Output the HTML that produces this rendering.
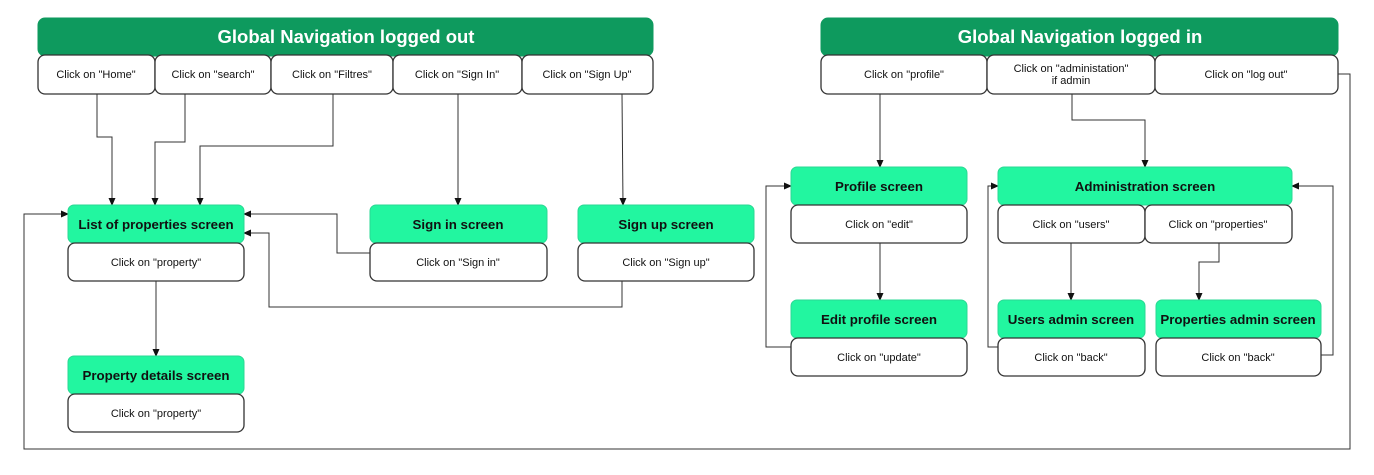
<!DOCTYPE html>
<html><head><meta charset="utf-8"><style>
body{margin:0;background:#fff}
text{font-family:"Liberation Sans",Arial,sans-serif}
.h{fill:#0e9a5e;stroke:#0e9a5e}
.g{fill:#22f6a0;stroke:#2bd894;stroke-width:1}
.w{fill:#fff;stroke:#333;stroke-width:1.3}
.ht{font-size:18.5px;font-weight:bold;fill:#fff}
.gt{font-size:13.3px;font-weight:bold;fill:#111}
.wt{font-size:11px;fill:#111}
.l{fill:none;stroke:#333;stroke-width:1}
</style></head><body>
<svg width="1374" height="470" xmlns="http://www.w3.org/2000/svg">
<defs><marker id="a" markerWidth="8" markerHeight="8" refX="7" refY="4" orient="auto" markerUnits="userSpaceOnUse"><path d="M0,0.5 L8,4 L0,7.5z" fill="#111"/></marker></defs>
<g class="l" marker-end="url(#a)">
<polyline points="97,94 97,137 112,137 112,205"/>
<polyline points="185,94 185,142 155,142 155,205"/>
<polyline points="333,94 333,146 200,146 200,205"/>
<polyline points="458,94 458,205"/>
<polyline points="622,94 623,205"/>
<polyline points="370,253 337,253 337,214 244,214"/>
<polyline points="622,281 622,307 269,307 269,233 244,233"/>
<polyline points="156,281 156,356"/>
<polyline points="1338,74 1350,74 1350,449 24,449 24,214 68,214"/>
<polyline points="880,94 880,122 880,167"/>
<polyline points="1072,94 1072,120 1145,120 1145,167"/>
<polyline points="880,243 880,300"/>
<polyline points="791,347 766,347 766,186 791,186"/>
<polyline points="1071,243 1071,300"/>
<polyline points="1219,243 1219,262 1199,262 1199,300"/>
<polyline points="998,347 988,347 988,186 998,186"/>
<polyline points="1321,355 1333,355 1333,186 1292,186"/>
</g>
<rect class="h" x="38" y="18" width="615" height="38" rx="7"/>
<text class="ht" x="346" y="43" text-anchor="middle">Global Navigation logged out</text>
<g class="wt" text-anchor="middle">
<rect class="w" x="38" y="55" width="117" height="39" rx="7"/><text x="96" y="78">Click on "Home"</text>
<rect class="w" x="155" y="55" width="116" height="39" rx="7"/><text x="213" y="78">Click on "search"</text>
<rect class="w" x="271" y="55" width="122" height="39" rx="7"/><text x="332" y="78">Click on "Filtres"</text>
<rect class="w" x="393" y="55" width="129" height="39" rx="7"/><text x="457" y="78">Click on "Sign In"</text>
<rect class="w" x="522" y="55" width="131" height="39" rx="7"/><text x="587" y="78">Click on "Sign Up"</text>

<rect class="g" x="68" y="205" width="176" height="38" rx="6"/><text class="gt" x="156" y="229">List of properties screen</text>
<rect class="w" x="68" y="243" width="176" height="38" rx="7"/><text x="156" y="266">Click on "property"</text>
<rect class="g" x="370" y="205" width="177" height="38" rx="6"/><text class="gt" x="458" y="229">Sign in screen</text>
<rect class="w" x="370" y="243" width="177" height="38" rx="7"/><text x="458" y="266">Click on "Sign in"</text>
<rect class="g" x="578" y="205" width="176" height="38" rx="6"/><text class="gt" x="666" y="229">Sign up screen</text>
<rect class="w" x="578" y="243" width="176" height="38" rx="7"/><text x="666" y="266">Click on "Sign up"</text>
<rect class="g" x="68" y="356" width="176" height="38" rx="6"/><text class="gt" x="156" y="380">Property details screen</text>
<rect class="w" x="68" y="394" width="176" height="38" rx="7"/><text x="156" y="417">Click on "property"</text>

<rect class="h" x="821" y="18" width="517" height="38" rx="7"/>
<text class="ht" x="1080" y="43">Global Navigation logged in</text>
<rect class="w" x="821" y="55" width="166" height="39" rx="7"/><text x="904" y="78">Click on "profile"</text>
<rect class="w" x="987" y="55" width="168" height="39" rx="7"/><text x="1071" y="72">Click on "administation"</text><text x="1071" y="84">if admin</text>
<rect class="w" x="1155" y="55" width="183" height="39" rx="7"/><text x="1246" y="78">Click on "log out"</text>

<rect class="g" x="791" y="167" width="176" height="38" rx="6"/><text class="gt" x="879" y="191">Profile screen</text>
<rect class="w" x="791" y="205" width="176" height="38" rx="7"/><text x="879" y="228">Click on "edit"</text>
<rect class="g" x="791" y="300" width="176" height="38" rx="6"/><text class="gt" x="879" y="324">Edit profile screen</text>
<rect class="w" x="791" y="338" width="176" height="38" rx="7"/><text x="879" y="361">Click on "update"</text>

<rect class="g" x="998" y="167" width="294" height="38" rx="6"/><text class="gt" x="1145" y="191">Administration screen</text>
<rect class="w" x="998" y="205" width="147" height="38" rx="7"/><text x="1071" y="228">Click on "users"</text>
<rect class="w" x="1145" y="205" width="147" height="38" rx="7"/><text x="1218" y="228">Click on "properties"</text>
<rect class="g" x="998" y="300" width="147" height="38" rx="6"/><text class="gt" x="1071" y="324">Users admin screen</text>
<rect class="w" x="998" y="338" width="147" height="38" rx="7"/><text x="1071" y="361">Click on "back"</text>
<rect class="g" x="1156" y="300" width="165" height="38" rx="6"/><text class="gt" x="1238" y="324">Properties admin screen</text>
<rect class="w" x="1156" y="338" width="165" height="38" rx="7"/><text x="1238" y="361">Click on "back"</text>
</g>
</svg>
</body></html>
